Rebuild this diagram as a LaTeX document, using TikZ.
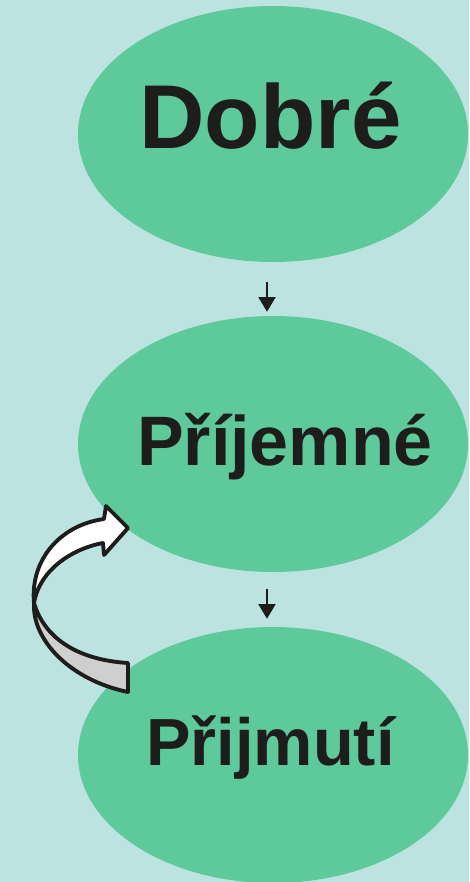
\documentclass[tikz,border=0pt]{standalone}
\usepackage{fontspec}
\setmainfont{Liberation Sans}
\usetikzlibrary{shapes.geometric,arrows.meta}

\definecolor{bgcyan}{HTML}{BDE3E1}
\definecolor{leafgreen}{HTML}{5EC99B}
\definecolor{inkblack}{HTML}{1D1D1B}
\definecolor{backgrey}{HTML}{CFCFCF}

\tikzset{
    blob/.style={ellipse, fill=leafgreen, inner sep=0pt, minimum width=292.5pt, minimum height=192pt},
    word/.style={anchor=base, text=inkblack, inner sep=0pt},
    flow/.style={draw=inkblack, line width=1.5pt, -{Triangle[length=11pt,width=12.75pt]}},
    band/.style={draw=inkblack, line width=2.9pt, line join=round}
}

\begin{document}
\begin{tikzpicture}[x=0.75pt, y=-0.75pt]

    % Background and page size
    \fill[bgcyan] (0,0) rectangle (469,882);
    \useasboundingbox (0,0) rectangle (469,882);

    % The three ellipses
    \node[blob] (dobre) at (273,134) {};
    \node[blob] (prijemne) at (273,444) {};
    \node[blob] (prijmuti) at (273,755) {};

    % Their words
    \node[word, font=\bfseries\fontsize{68}{76}\selectfont] (dobreText) at (270.5,148) {Dobré};
    \node[word, font=\bfseries\fontsize{52.5}{58}\selectfont] (prijemneText) at (285,465) {Příjemné};
    \node[word, font=\bfseries\fontsize{50}{56}\selectfont] (prijmutiText) at (270.5,765) {Přijmutí};

    % Small arrows between the ellipses
    \draw[flow, shorten <=15pt, shorten >=3pt] ([xshift=-4.5pt]dobre.south) -- ([xshift=-4.5pt]prijemne.north);
    \draw[flow, shorten <=12.75pt, shorten >=6pt] ([xshift=-4.5pt]prijemne.south) -- ([xshift=-4.5pt]prijmuti.north);

    % Curved block arrow, back side (grey) first
    \filldraw[band, fill=backgrey] (34,603) .. controls (32,640) and (70,680) .. (128,692)
        -- (128,663) .. controls (80,660) and (45,640) .. (34,603) -- cycle;

    % Curved block arrow, front side with its head
    \filldraw[band, fill=white] (34,603) .. controls (30,560) and (60,525) .. (104,519)
        -- (106,506) -- (128,528) -- (104,555) -- (103,543)
        .. controls (75,548) and (40,568) .. (34,603) -- cycle;

\end{tikzpicture}
\end{document}
